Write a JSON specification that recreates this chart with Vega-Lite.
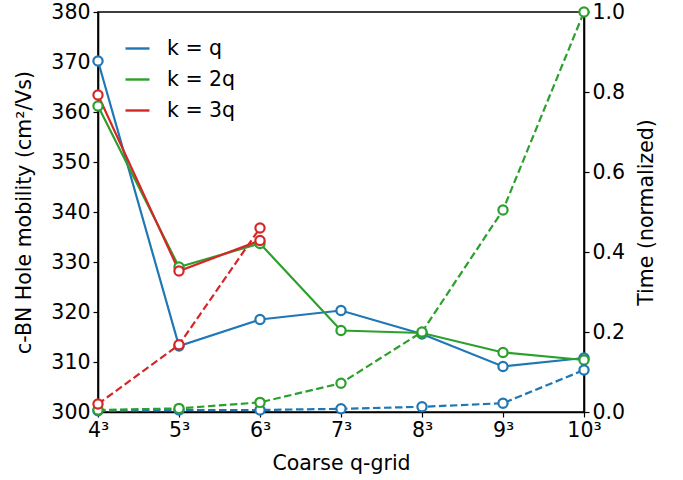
{
  "$schema": "https://vega.github.io/schema/vega-lite/v6.json",
  "width": 486,
  "height": 400,
  "autosize": {"type": "none"},
  "padding": {"left": 98, "top": 12, "right": 99, "bottom": 68},
  "config": {
    "font": "DejaVu Sans",
    "view": {"stroke": "black", "strokeWidth": 1.6},
    "axis": {
      "grid": false,
      "domainColor": "black",
      "domainWidth": 1.6,
      "tickColor": "black",
      "tickWidth": 1.2,
      "tickSize": 5,
      "labelFontSize": 20.5,
      "labelColor": "black",
      "titleFontSize": 20.5,
      "titleFontWeight": "normal",
      "titleColor": "black",
      "labelPadding": 3
    }
  },
  "data": {
    "values": [
      {"grid": "4³", "k": "k = q", "mobility": 370.2, "time": 0.003},
      {"grid": "5³", "k": "k = q", "mobility": 313.2, "time": 0.005},
      {"grid": "6³", "k": "k = q", "mobility": 318.5, "time": 0.005},
      {"grid": "7³", "k": "k = q", "mobility": 320.3, "time": 0.008},
      {"grid": "8³", "k": "k = q", "mobility": 315.6, "time": 0.013},
      {"grid": "9³", "k": "k = q", "mobility": 309.1, "time": 0.022},
      {"grid": "10³", "k": "k = q", "mobility": 310.8, "time": 0.105},
      {"grid": "4³", "k": "k = 2q", "mobility": 361.2, "time": 0.005},
      {"grid": "5³", "k": "k = 2q", "mobility": 329.0, "time": 0.009},
      {"grid": "6³", "k": "k = 2q", "mobility": 333.7, "time": 0.024},
      {"grid": "7³", "k": "k = 2q", "mobility": 316.3, "time": 0.072},
      {"grid": "8³", "k": "k = 2q", "mobility": 315.8, "time": 0.2},
      {"grid": "9³", "k": "k = 2q", "mobility": 311.9, "time": 0.505},
      {"grid": "10³", "k": "k = 2q", "mobility": 310.4, "time": 1.0},
      {"grid": "4³", "k": "k = 3q", "mobility": 363.4, "time": 0.02},
      {"grid": "5³", "k": "k = 3q", "mobility": 328.2, "time": 0.168},
      {"grid": "6³", "k": "k = 3q", "mobility": 334.3, "time": 0.46}
    ]
  },
  "encoding": {
    "x": {
      "field": "grid",
      "type": "ordinal",
      "scale": {"type": "point", "padding": 0, "domain": ["4³", "5³", "6³", "7³", "8³", "9³", "10³"]},
      "axis": {"title": "Coarse q-grid", "labelAngle": 0, "titlePadding": 13}
    },
    "color": {
      "field": "k",
      "type": "nominal",
      "scale": {"domain": ["k = q", "k = 2q", "k = 3q"], "range": ["#1f77b4", "#2ca02c", "#d62728"]},
      "legend": null
    }
  },
  "layer": [
    {
      "encoding": {
        "y": {
          "field": "mobility",
          "type": "quantitative",
          "scale": {"domain": [300, 380], "zero": false, "nice": false},
          "axis": {"title": "c-BN Hole mobility (cm²/Vs)", "values": [300, 310, 320, 330, 340, 350, 360, 370, 380], "titlePadding": 16}
        }
      },
      "layer": [
        {
          "mark": {"type": "line", "strokeWidth": 2.2},
          "encoding": {
            "color": {
              "field": "k",
              "type": "nominal",
              "legend": {
                "title": null,
                "orient": "none",
                "legendX": 26,
                "legendY": 23,
                "symbolType": "stroke",
                "symbolSize": 576,
                "symbolStrokeWidth": 2.4,
                "labelFontSize": 20.5,
                "labelColor": "black",
                "labelOffset": 16,
                "rowPadding": 7
              }
            }
          }
        },
        {
          "mark": {"type": "point", "shape": "circle", "filled": false, "fill": "white", "fillOpacity": 1, "size": 85, "strokeWidth": 2.2, "opacity": 1}
        }
      ]
    },
    {
      "encoding": {
        "y": {
          "field": "time",
          "type": "quantitative",
          "scale": {"domain": [0, 1], "nice": false},
          "axis": {"title": "Time (normalized)", "orient": "right", "titleAngle": 270, "titleBaseline": "top", "values": [0, 0.2, 0.4, 0.6, 0.8, 1.0], "format": ".1f", "titlePadding": 12}
        }
      },
      "layer": [
        {
          "mark": {"type": "line", "strokeWidth": 2.2, "strokeDash": [7.5, 3.5]}
        },
        {
          "mark": {"type": "point", "shape": "circle", "filled": false, "fill": "white", "fillOpacity": 1, "size": 85, "strokeWidth": 2.2, "opacity": 1}
        }
      ]
    }
  ],
  "resolve": {"scale": {"y": "independent"}}
}
